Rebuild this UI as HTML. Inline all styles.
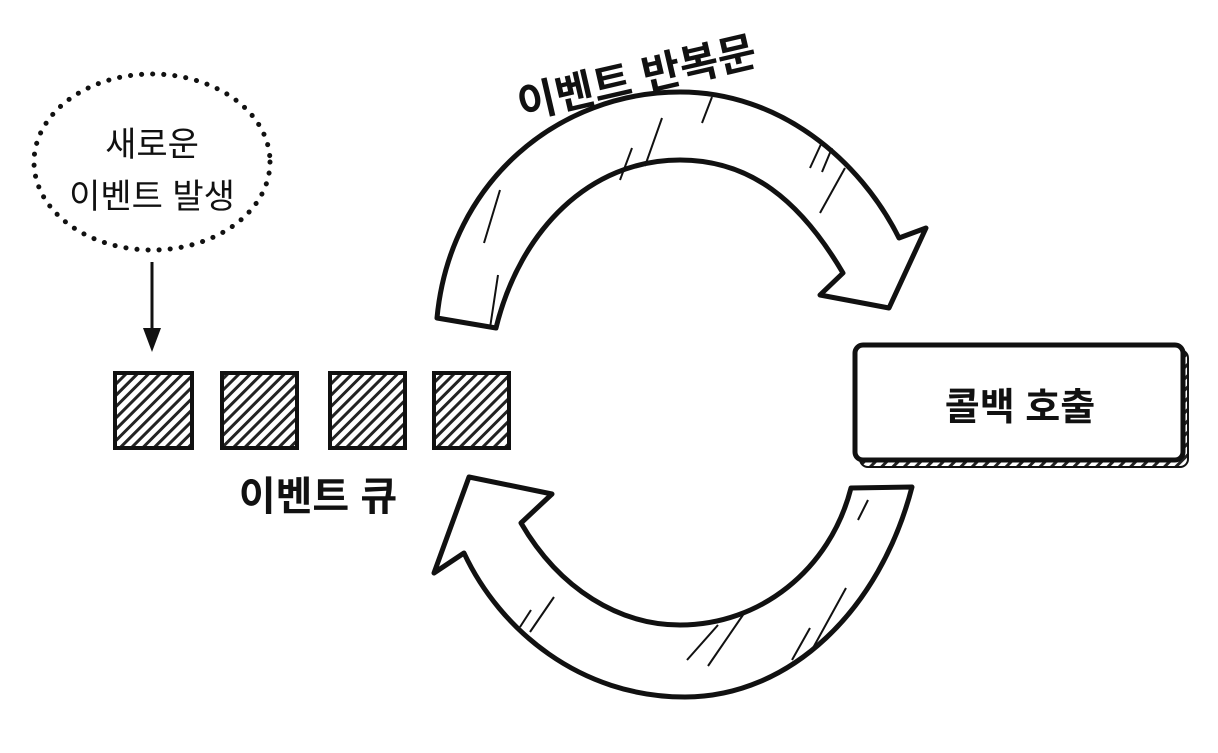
<!DOCTYPE html>
<html><head><meta charset="utf-8"><style>
html,body{margin:0;padding:0;background:#fff;}
body{width:1218px;height:748px;position:relative;overflow:hidden;font-family:"Liberation Sans","Noto Sans CJK KR","NanumGothic",sans-serif;}
</style></head><body>
<svg width="1218" height="748" viewBox="0 0 1218 748" xmlns="http://www.w3.org/2000/svg">
<defs>
<pattern id="h" width="8" height="8" patternUnits="userSpaceOnUse" patternTransform="rotate(45)">
<rect width="8" height="8" fill="#fff"/><rect width="3" height="8" fill="#222"/>
</pattern>
</defs>
<g fill="#fff" stroke="#111" stroke-width="5" stroke-linejoin="round">
<path d="M437,318 C450,180 560,92 680,92 C780,92 860,160 899,238 L926,228 L889,308 L820,295 L843,273 C800,200 750,160 680,160 C590,160 520,230 496,328 Z"/>
<path d="M912,487 C880,610 790,697 685,697 C580,697 500,630 464,553 L434,573 L469,477 L552,494 L521,523 C560,590 620,625 680,625 C760,625 830,570 851,488 Z"/>
</g>
<g stroke="#111" stroke-width="2">
<line x1="500" y1="190" x2="484" y2="243"/><line x1="498" y1="275" x2="490" y2="328"/>
<line x1="620" y1="180" x2="632" y2="148"/><line x1="645" y1="166" x2="662" y2="118"/>
<line x1="702" y1="123" x2="712" y2="97"/><line x1="810" y1="168" x2="822" y2="142"/>
<line x1="822" y1="172" x2="832" y2="148"/><line x1="820" y1="213" x2="845" y2="168"/>
<line x1="520" y1="627" x2="531" y2="610"/><line x1="530" y1="632" x2="554" y2="597"/>
<line x1="687" y1="660" x2="718" y2="625"/><line x1="708" y1="666" x2="745" y2="612"/>
<line x1="792" y1="660" x2="810" y2="628"/><line x1="813" y1="648" x2="846" y2="588"/>
<line x1="858" y1="520" x2="868" y2="500"/>
</g>
<ellipse cx="152" cy="162" rx="118" ry="88" fill="none" stroke="#111" stroke-width="5" stroke-dasharray="0.1 11" stroke-linecap="round"/>
<line x1="152" y1="262" x2="152" y2="340" stroke="#111" stroke-width="3"/>
<path d="M143,328 L152,352 L161,328 Z" fill="#111"/>
<g stroke="#111" stroke-width="4" fill="url(#h)">
<rect x="115" y="373" width="77" height="75"/>
<rect x="222" y="373" width="75" height="75"/>
<rect x="330" y="373" width="75" height="75"/>
<rect x="434" y="373" width="75" height="75"/>
</g>
<rect x="860" y="350" width="328" height="117" rx="8" fill="url(#h)" stroke="#111" stroke-width="2"/>
<rect x="855" y="345" width="328" height="115" rx="8" fill="#fff" stroke="#111" stroke-width="5"/>
<g fill="#111" font-family="'Liberation Sans','Noto Sans CJK KR','NanumGothic',sans-serif">
<text x="152" y="156" font-size="34" text-anchor="middle">새로운</text>
<text x="152" y="208" font-size="34" text-anchor="middle">이벤트 발생</text>
<text x="318" y="510" font-size="40" font-weight="bold" text-anchor="middle">이벤트 큐</text>
<text x="1020" y="420" font-size="38" font-weight="bold" text-anchor="middle">콜백 호출</text>
<text x="0" y="0" font-size="42" font-weight="bold" text-anchor="middle" transform="translate(640,92) rotate(-13)">이벤트 반복문</text>
</g>
</svg>
</body></html>
